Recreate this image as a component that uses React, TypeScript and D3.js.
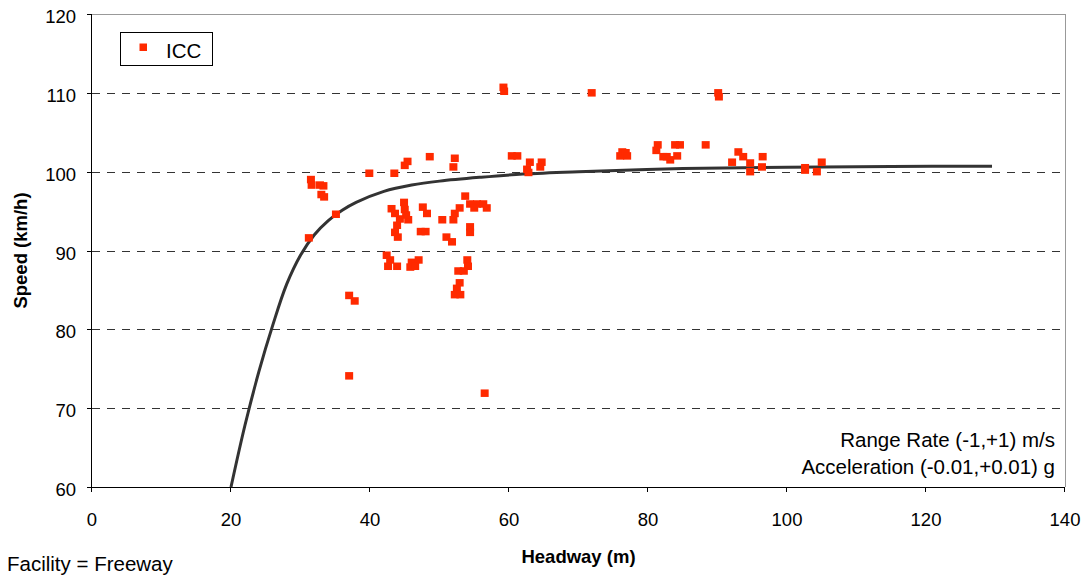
import React from "react";
import * as d3 from "d3";

const xTicks = [0, 20, 40, 60, 80, 100, 120, 140];
const yTicks = [60, 70, 80, 90, 100, 110, 120];
const gridValues = [70, 80, 90, 100, 110];

// ICC observations: [headway (m), speed (km/h)]
const iccPoints: [number, number][] = [
  [31.2, 91.6], [31.5, 99.0], [31.6, 98.3], [32.8, 98.3], [33.3, 98.2], [33.0, 97.1], [33.4, 96.8],
  [35.1, 94.6],
  [37.0, 84.3], [37.8, 83.6], [37.0, 74.1],
  [39.9, 99.8], [43.5, 99.8], [45.0, 100.8], [45.4, 101.3], [48.6, 101.9],
  [43.1, 95.3], [44.9, 96.1], [45.0, 95.2], [43.6, 94.7], [45.5, 93.9], [43.9, 93.2],
  [43.6, 92.3], [44.0, 91.7], [45.2, 94.5], [44.3, 94.0],
  [47.6, 95.5], [48.2, 94.7], [47.3, 92.4], [48.0, 92.4],
  [50.4, 93.9], [51.0, 91.7], [51.8, 91.1], [52.2, 94.7], [52.0, 93.9], [52.9, 95.4],
  [53.7, 96.9], [54.4, 95.9], [55.4, 95.9], [56.3, 95.9], [56.8, 95.4], [55.0, 95.4],
  [54.4, 93.0], [54.4, 92.3],
  [52.2, 101.7], [52.0, 100.6],
  [42.4, 89.4], [42.9, 88.8], [42.6, 88.0], [43.9, 88.0], [46.0, 88.5], [47.0, 88.8],
  [45.8, 87.9], [46.5, 88.0],
  [54.0, 88.8], [54.1, 88.0], [52.7, 87.4], [53.5, 87.4], [52.9, 85.9], [52.5, 85.2],
  [52.2, 84.4], [53.0, 84.4],
  [56.5, 71.9],
  [59.2, 110.7], [59.3, 110.2], [71.9, 110.0], [90.1, 110.0], [90.2, 109.5],
  [60.4, 102.0], [61.2, 102.0], [63.0, 101.2], [62.6, 100.3], [64.7, 101.2], [64.5, 100.6], [62.8, 99.9],
  [76.3, 102.5], [76.0, 102.0], [76.8, 102.4], [77.0, 102.0],
  [81.4, 103.4], [81.2, 102.7], [82.2, 101.9], [83.2, 101.5], [83.9, 103.4], [84.6, 103.4],
  [82.7, 101.9], [84.2, 102.0],
  [88.3, 103.4],
  [92.1, 101.2], [93.0, 102.5], [93.7, 101.9], [94.7, 101.1], [94.7, 100.0], [96.4, 100.6], [96.5, 101.9],
  [102.6, 100.2], [102.6, 100.5], [104.3, 100.0], [105.0, 101.2],
];

// Fitted curve: [headway (m), speed (km/h)]
const curvePoints: [number, number][] = [
  [20, 60], [22, 67.8], [24, 74.6], [26, 80.5], [28, 85.7], [30, 89.4], [32, 92.0],
  [34, 93.8], [36, 95.1], [38, 96.1], [42, 97.5], [46, 98.3], [50, 98.8], [56, 99.3],
  [62, 99.7], [70, 100.0], [85, 100.4], [100, 100.55], [115, 100.65], [129.5, 100.7],
];

const legendLabel = "ICC";
const noteLines = ["Range Rate (-1,+1) m/s", "Acceleration (-0.01,+0.01) g"];
const facilityNote = "Facility = Freeway";
const xTitle = "Headway (m)";
const yTitle = "Speed (km/h)";

export default function App() {
  const W = 1089, H = 578;
  const left = 92, right = 1065, top = 14, bottom = 487;
  const x = d3.scaleLinear().domain([0, 140]).range([left, right]);
  const y = d3.scaleLinear().domain([60, 120]).range([bottom, top]);
  const line = d3
    .line<[number, number]>()
    .x((d) => x(d[0]))
    .y((d) => y(d[1]))
    .curve(d3.curveCatmullRom.alpha(0.5));
  const font = "'Liberation Sans', Arial, sans-serif";
  const red = "#ff2a00";
  const mw = 8, mh = 7.5;

  return (
    <svg
      width={W}
      height={H}
      style={{ position: "absolute", left: 0, top: 0, background: "#fff" }}
      fontFamily={font}
    >
      <rect x={0} y={0} width={W} height={H} fill="#fff" />
      {gridValues.map((v) => (
        <line
          key={v}
          x1={left}
          x2={right}
          y1={Math.round(y(v)) + 0.5}
          y2={Math.round(y(v)) + 0.5}
          stroke="#333"
          strokeWidth={1}
          strokeDasharray="8,7"
        />
      ))}
      {/* frame */}
      <line x1={left} x2={right} y1={top + 0.5} y2={top + 0.5} stroke="#999" />
      <line x1={right + 0.5} x2={right + 0.5} y1={top} y2={bottom} stroke="#999" />
      <line x1={left} x2={right} y1={bottom + 0.5} y2={bottom + 0.5} stroke="#000" />
      <line x1={left - 0.5} x2={left - 0.5} y1={top} y2={bottom} stroke="#000" />
      {xTicks.map((t) => (
        <g key={t}>
          <line
            x1={Math.round(x(t)) - 0.5}
            x2={Math.round(x(t)) - 0.5}
            y1={bottom}
            y2={bottom + 5}
            stroke="#000"
          />
          <text x={x(t)} y={526} textAnchor="middle" fontSize={18.5} fill="#000">
            {t}
          </text>
        </g>
      ))}
      {yTicks.map((t) => (
        <g key={t}>
          <line
            x1={left - 5}
            x2={left}
            y1={Math.round(y(t)) + 0.5}
            y2={Math.round(y(t)) + 0.5}
            stroke="#000"
          />
          <text x={76} y={y(t) + 9} textAnchor="end" fontSize={18.5} fill="#000">
            {t}
          </text>
        </g>
      ))}
      <path d={line(curvePoints) || ""} fill="none" stroke="#333" strokeWidth={3} />
      {iccPoints.map((p, i) => (
        <rect
          key={i}
          x={x(p[0]) - mw / 2}
          y={y(p[1]) - mh / 2}
          width={mw}
          height={mh}
          fill={red}
        />
      ))}
      {/* legend */}
      <rect x={120.5} y={32.5} width={92} height={33} fill="#fff" stroke="#000" strokeWidth={1} />
      <rect x={139.5} y={43.5} width={7.5} height={7.5} fill={red} />
      <text x={166} y={58} fontSize={20.5} fill="#000">
        {legendLabel}
      </text>
      {/* notes */}
      {noteLines.map((s, i) => (
        <text key={i} x={1055} y={447 + i * 27} textAnchor="end" fontSize={20.5} fill="#000">
          {s}
        </text>
      ))}
      <text x={7} y={571} fontSize={20.5} fill="#000">
        {facilityNote}
      </text>
      <text
        x={(left + right) / 2}
        y={563}
        textAnchor="middle"
        fontSize={18.5}
        fontWeight="bold"
        fill="#000"
      >
        {xTitle}
      </text>
      <text
        transform={`translate(27,${(top + bottom) / 2}) rotate(-90)`}
        textAnchor="middle"
        fontSize={18.5}
        fontWeight="bold"
        fill="#000"
      >
        {yTitle}
      </text>
    </svg>
  );
}
